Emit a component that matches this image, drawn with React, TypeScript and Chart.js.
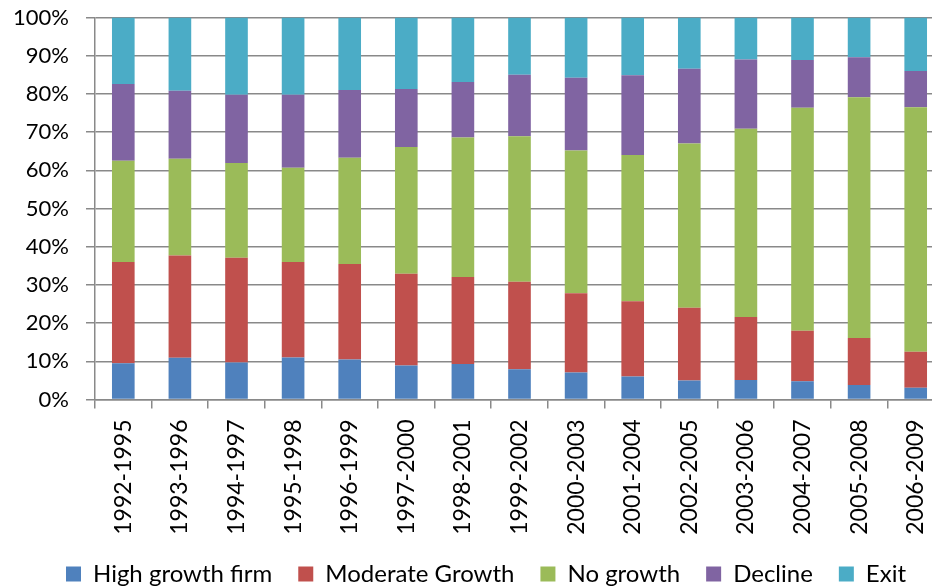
import React, { useEffect, useRef } from "react";
import { Chart, registerables } from "chart.js";

Chart.register(...registerables);

const categories = [
  "1992-1995", "1993-1996", "1994-1997", "1995-1998", "1996-1999",
  "1997-2000", "1998-2001", "1999-2002", "2000-2003", "2001-2004",
  "2002-2005", "2003-2006", "2004-2007", "2005-2008", "2006-2009",
];

const highGrowth = [9.5, 10.9, 9.7, 11.0, 10.5, 8.9, 9.3, 7.9, 7.1, 6.0, 5.0, 5.1, 4.8, 3.8, 3.1];
const moderateGrowth = [26.5, 26.8, 27.4, 25.0, 25.0, 24.0, 22.8, 22.9, 20.7, 19.7, 19.0, 16.5, 13.2, 12.3, 9.4];
const noGrowth = [26.5, 25.3, 24.8, 24.7, 27.8, 33.2, 36.5, 38.1, 37.4, 38.3, 43.0, 49.3, 58.4, 63.0, 64.0];
const decline = [20.1, 17.8, 17.9, 19.1, 17.7, 15.2, 14.5, 16.1, 19.0, 20.9, 19.6, 18.1, 12.5, 10.5, 9.5];
const exitShare = [17.4, 19.2, 20.2, 20.2, 19.0, 18.7, 16.9, 15.0, 15.8, 15.1, 13.4, 11.0, 11.1, 10.4, 14.0];

const seriesNames = ["High growth firm", "Moderate Growth", "No growth", "Decline", "Exit"];
const seriesColors = ["#4F81BD", "#C0504D", "#9BBB59", "#8064A2", "#4BACC6"];
const yTickLabels = ["0%", "10%", "20%", "30%", "40%", "50%", "60%", "70%", "80%", "90%", "100%"];

const GRID = "#898989";
const FAMILY = "Lato, 'Open Sans', sans-serif";

const shiftLegend = {
  id: "shiftLegend",
  afterLayout(chart: any) {
    const l = chart.legend;
    if (l) {
      l.left += 14;
      l.right += 14;
    }
  },
};

export default function App() {
  const ref = useRef<HTMLCanvasElement>(null);

  useEffect(() => {
    const values = [highGrowth, moderateGrowth, noGrowth, decline, exitShare];
    const chart = new Chart(ref.current as HTMLCanvasElement, {
      type: "bar",
      data: {
        labels: categories,
        datasets: values.map((d, i) => ({
          label: seriesNames[i],
          data: d,
          backgroundColor: seriesColors[i],
          borderWidth: 0,
          barPercentage: 0.4,
          categoryPercentage: 1,
        })),
      },
      plugins: [shiftLegend],
      options: {
        responsive: false,
        animation: false,
        devicePixelRatio: 1,
        layout: { padding: { left: 0, right: 31, top: 17.5, bottom: -8 } },
        plugins: {
          legend: {
            position: "bottom",
            labels: {
              font: { family: FAMILY, size: 24 },
              color: "#000",
              boxWidth: 15,
              boxHeight: 15,
              padding: 26,
            },
          },
          tooltip: { enabled: false },
        },
        scales: {
          x: {
            stacked: true,
            grid: { drawOnChartArea: false, offset: true, color: GRID, tickLength: 9, lineWidth: 1.5 },
            border: { color: GRID, width: 1.5 },
            ticks: {
              minRotation: 90,
              maxRotation: 90,
              font: { family: FAMILY, size: 23 },
              color: "#000",
              padding: 11,
              autoSkip: false,
            },
            afterFit: (s: any) => {
              s.height = 136.5;
            },
          },
          y: {
            stacked: true,
            min: 0,
            max: 100,
            ticks: {
              stepSize: 10,
              font: { family: FAMILY, size: 22 },
              color: "#000",
              padding: 17,
              callback: (_v: any, i: number) => yTickLabels[i],
            },
            grid: { color: GRID, tickLength: 9, lineWidth: 1.5 },
            border: { color: GRID, width: 1.5 },
            afterFit: (s: any) => {
              s.width = 95;
              s.paddingTop = 0;
              s.paddingBottom = 0;
            },
          },
        },
      },
    });
    return () => chart.destroy();
  }, []);

  return (
    <div
      style={{
        position: "fixed",
        left: 0,
        top: 0,
        width: 932,
        height: 588,
        overflow: "hidden",
        background: "#fff",
      }}
    >
      <canvas ref={ref} width={975} height={588} style={{ display: "block", width: 975, height: 588 }} />
    </div>
  );
}
